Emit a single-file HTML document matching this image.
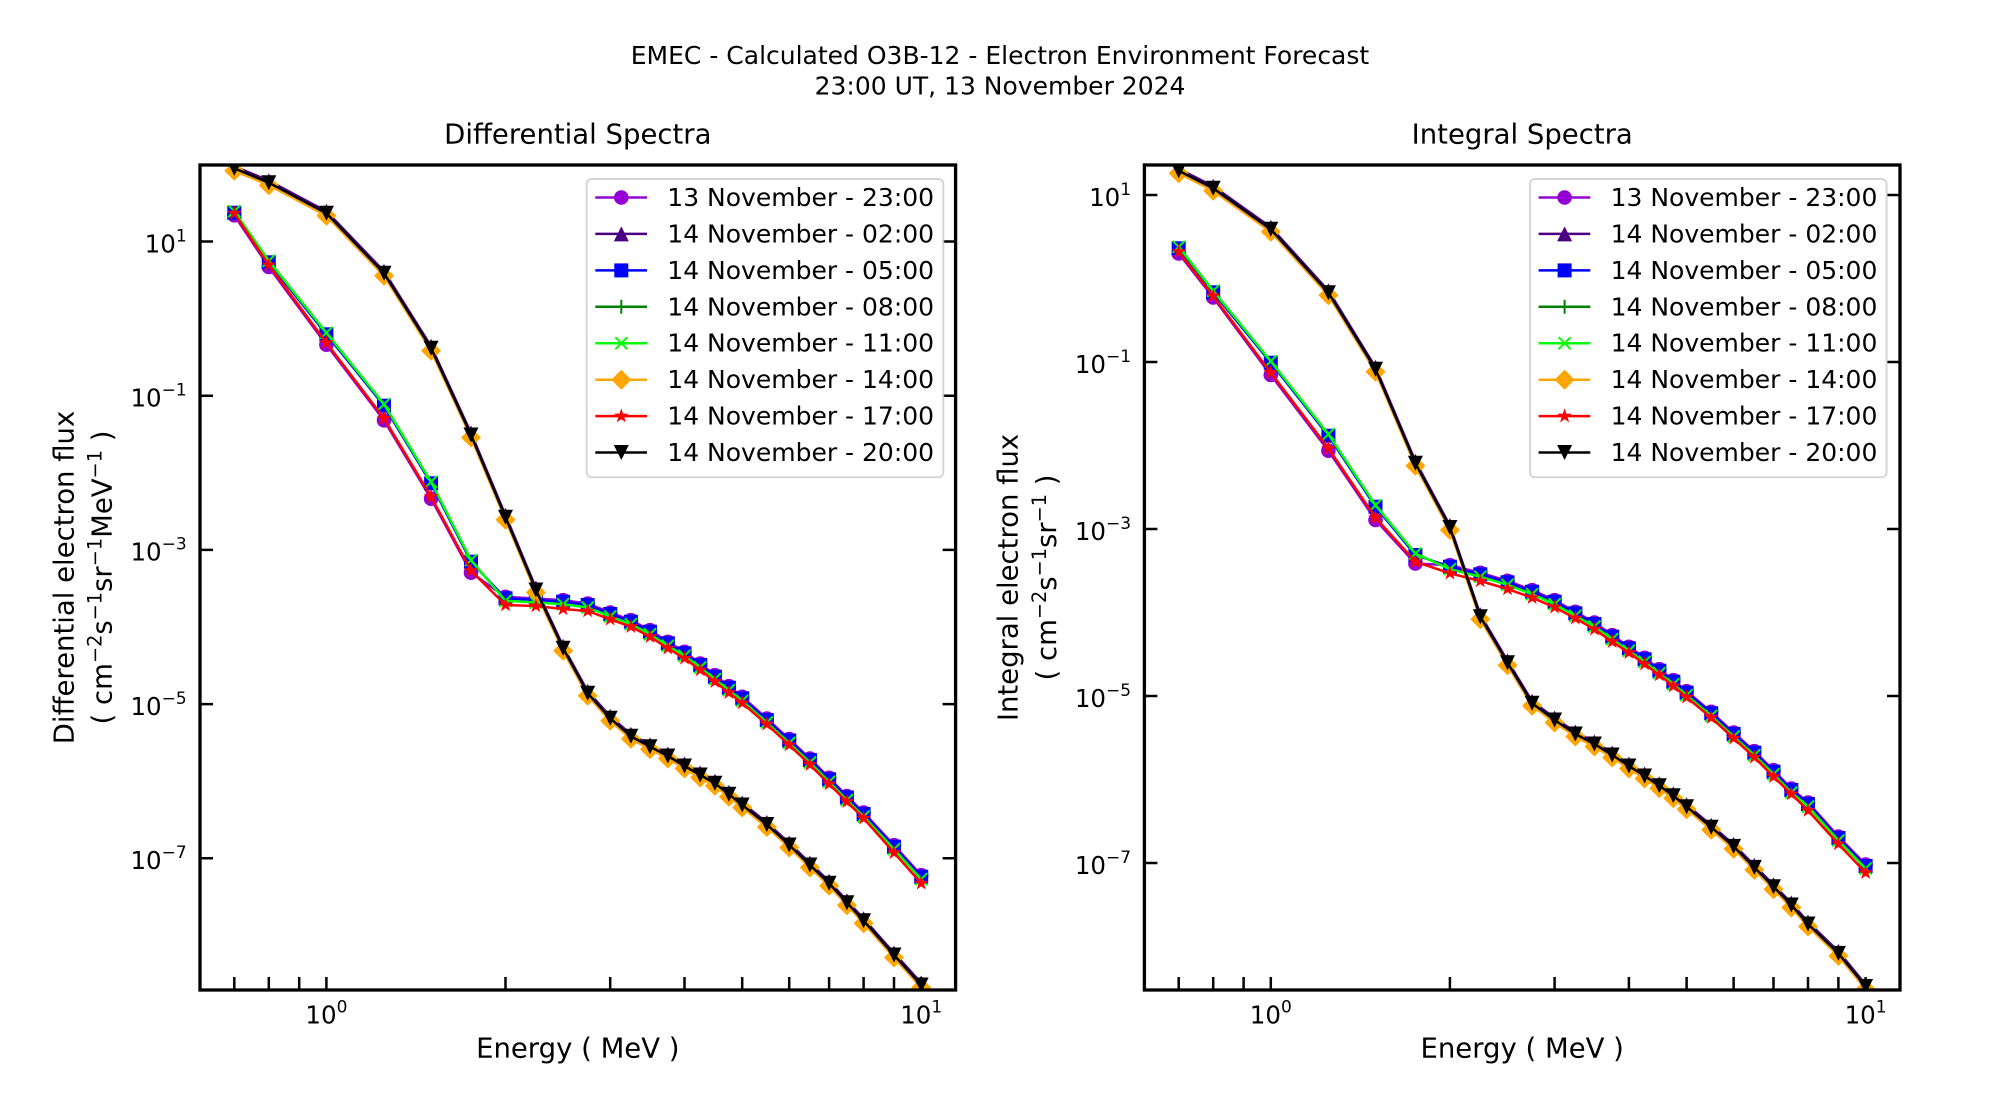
<!DOCTYPE html>
<html>
<head>
<meta charset="utf-8">
<style>
html,body{margin:0;padding:0;background:#fff;}
svg{display:block;}
text{font-family:"DejaVu Sans","Liberation Sans",sans-serif;fill:#000;white-space:pre;}
.d{fill:none;stroke-width:2.5;stroke-linejoin:round;stroke-linecap:butt;}
</style>
</head>
<body>
<svg width="2000" height="1100" viewBox="0 0 2000 1100" xmlns="http://www.w3.org/2000/svg">
<defs>
<marker id="mP" markerUnits="userSpaceOnUse" viewBox="-12 -12 24 24" markerWidth="24" markerHeight="24" refX="0" refY="0" overflow="visible"><circle r="7.3" fill="#9400D3"/></marker>
<marker id="mI" markerUnits="userSpaceOnUse" viewBox="-12 -12 24 24" markerWidth="24" markerHeight="24" refX="0" refY="0" overflow="visible"><path d="M0,-7.5L7.5,7.5L-7.5,7.5Z" fill="#4B0082"/></marker>
<marker id="mB" markerUnits="userSpaceOnUse" viewBox="-12 -12 24 24" markerWidth="24" markerHeight="24" refX="0" refY="0" overflow="visible"><rect x="-7" y="-7" width="14" height="14" fill="#0000FF"/></marker>
<marker id="mG" markerUnits="userSpaceOnUse" viewBox="-12 -12 24 24" markerWidth="24" markerHeight="24" refX="0" refY="0" overflow="visible"><path d="M-7,0H7M0,-7V7" stroke="#008000" stroke-width="2" fill="none"/></marker>
<marker id="mL" markerUnits="userSpaceOnUse" viewBox="-12 -12 24 24" markerWidth="24" markerHeight="24" refX="0" refY="0" overflow="visible"><path d="M-6,-6L6,6M-6,6L6,-6" stroke="#00FF00" stroke-width="2" fill="none"/></marker>
<marker id="mO" markerUnits="userSpaceOnUse" viewBox="-12 -12 24 24" markerWidth="24" markerHeight="24" refX="0" refY="0" overflow="visible"><path d="M0,-10L10,0L0,10L-10,0Z" fill="#FFA500"/></marker>
<marker id="mR" markerUnits="userSpaceOnUse" viewBox="-12 -12 24 24" markerWidth="24" markerHeight="24" refX="0" refY="0" overflow="visible"><path d="M0,-7.8L1.76,-2.43L7.42,-2.41L2.85,0.93L4.58,6.31L0,3L-4.58,6.31L-2.85,0.93L-7.42,-2.41L-1.76,-2.43Z" fill="#FF0000"/></marker>
<marker id="mK" markerUnits="userSpaceOnUse" viewBox="-12 -12 24 24" markerWidth="24" markerHeight="24" refX="0" refY="0" overflow="visible"><path d="M0,7.5L7.5,-7.5L-7.5,-7.5Z" fill="#000000"/></marker>
<clipPath id="ax" clipPathUnits="userSpaceOnUse"><rect x="200" y="165" width="755.6" height="825"/></clipPath>
</defs>

<!-- Suptitle -->
<text x="1000" y="64" font-size="25" text-anchor="middle">EMEC - Calculated O3B-12 - Electron Environment Forecast</text>
<text x="1000" y="94.5" font-size="25" text-anchor="middle">23:00 UT, 13 November 2024</text>

<!-- ================= LEFT PLOT ================= -->
<text x="577.8" y="143.5" font-size="27.5" text-anchor="middle">Differential Spectra</text>

<g clip-path="url(#ax)">
<polyline class="d" stroke="#9400D3" marker-start="url(#mP)" marker-mid="url(#mP)" marker-end="url(#mP)" points="234.3,215.3 268.8,267 326.4,344.7 384,420.3 431.1,498.7 471,572.7 505.5,596.8 535.9,598.5 563.1,600.2 587.7,603.5 610.2,612.5 630.9,620.2 650,630.2 667.8,641.8 684.5,651.8 700.2,663.5 714.9,675.2 728.9,686.2 742.2,696.8 766.8,718.5 789.2,739 809.9,758.5 829.1,777.8 846.9,796 863.6,812.5 894,845.2 921.2,875.2"/>
<polyline class="d" stroke="#4B0082" marker-start="url(#mI)" marker-mid="url(#mI)" marker-end="url(#mI)" points="234.3,166.3 268.8,180.7 326.4,211.3 384,271.3 431.1,346.3 471,433 505.5,515.3 535.9,588 563.1,646.3 587.7,691.3 610.2,716.3 630.9,734.3 650,744.7 667.8,754 684.5,764 700.2,773 714.9,781.3 728.9,792.2 742.2,803 766.8,822.5 789.2,843 809.9,863 829.1,881.3 846.9,900.7 863.6,918.7 894,953 921.2,983"/>
<polyline class="d" stroke="#0000FF" marker-start="url(#mB)" marker-mid="url(#mB)" marker-end="url(#mB)" points="234.3,212.7 268.8,262.3 326.4,334.3 384,405.7 431.1,483.3 471,561.7 505.5,598.3 535.9,600 563.1,601.7 587.7,605 610.2,614 630.9,621.7 650,631.7 667.8,643.3 684.5,653.3 700.2,665 714.9,676.7 728.9,687.7 742.2,698.3 766.8,720 789.2,740.5 809.9,760 829.1,779.3 846.9,797.5 863.6,814 894,846.7 921.2,876.7"/>
<polyline class="d" stroke="#008000" marker-start="url(#mG)" marker-mid="url(#mG)" marker-end="url(#mG)" points="234.3,169.8 268.8,184.2 326.4,214.8 384,274.8 431.1,349.8 471,436.5 505.5,518.8 535.9,591.5 563.1,649.8 587.7,694.8 610.2,719.8 630.9,737.8 650,748.2 667.8,757.5 684.5,767.5 700.2,776.5 714.9,784.8 728.9,795.7 742.2,806.5 766.8,826 789.2,846.5 809.9,866.5 829.1,884.8 846.9,904.2 863.6,922.2 894,956.5 921.2,986.5"/>
<polyline class="d" stroke="#00FF00" marker-start="url(#mL)" marker-mid="url(#mL)" marker-end="url(#mL)" points="234.3,211.2 268.8,260.8 326.4,332.8 384,404.2 431.1,481.8 471,560.2 505.5,600.8 535.9,602.5 563.1,604.2 587.7,607.5 610.2,616.5 630.9,624.2 650,634.2 667.8,645.8 684.5,655.8 700.2,667.5 714.9,679.2 728.9,690.2 742.2,700.8 766.8,722.5 789.2,743 809.9,762.5 829.1,781.8 846.9,800 863.6,816.5 894,849.2 921.2,879.2"/>
<polyline class="d" stroke="#FFA500" marker-start="url(#mO)" marker-mid="url(#mO)" marker-end="url(#mO)" points="234.3,170.8 268.8,185.2 326.4,215.8 384,275.8 431.1,350.8 471,437.5 505.5,519.8 535.9,592.5 563.1,650.8 587.7,695.8 610.2,720.8 630.9,738.8 650,749.2 667.8,758.5 684.5,768.5 700.2,777.5 714.9,785.8 728.9,796.7 742.2,807.5 766.8,827 789.2,847.5 809.9,867.5 829.1,885.8 846.9,905.2 863.6,923.2 894,957.5 921.2,987.5"/>
<polyline class="d" stroke="#FF0000" marker-start="url(#mR)" marker-mid="url(#mR)" marker-end="url(#mR)" points="234.3,213.3 268.8,265 326.4,342.7 384,418.3 431.1,496.7 471,570.7 505.5,605 535.9,606 563.1,609 587.7,611 610.2,619.3 630.9,626.7 650,636.7 667.8,648.3 684.5,658.3 700.2,670 714.9,681.7 728.9,692.7 742.2,703 766.8,724.3 789.2,745 809.9,764.7 829.1,784 846.9,801.7 863.6,818.3 894,852.7 921.2,883.3"/>
<polyline class="d" stroke="#000000" marker-start="url(#mK)" marker-mid="url(#mK)" marker-end="url(#mK)" points="234.3,168.3 268.8,182.7 326.4,213.3 384,273.3 431.1,348.3 471,435 505.5,517.3 535.9,590 563.1,648.3 587.7,693.3 610.2,718.3 630.9,736.3 650,746.7 667.8,756 684.5,766 700.2,775 714.9,783.3 728.9,794.2 742.2,805 766.8,824.5 789.2,845 809.9,865 829.1,883.3 846.9,902.7 863.6,920.7 894,955 921.2,985"/>
</g>

<!-- left axes frame & ticks -->
<rect x="200" y="165" width="755.6" height="825" fill="none" stroke="#000" stroke-width="3.3"/>
<path d="M200,241.5h13M200,395.7h13M200,549.9h13M200,704.1h13M200,858.3h13M955.6,241.5h-13M955.6,395.7h-13M955.6,549.9h-13M955.6,704.1h-13M955.6,858.3h-13M234.3,990v-13M268.8,990v-13M299.2,990v-13M326.4,990v-13M505.5,990v-13M610.2,990v-13M684.5,990v-13M742.2,990v-13M789.2,990v-13M829.1,990v-13M863.6,990v-13M894,990v-13M921.2,990v-13" stroke="#000" stroke-width="2.5" fill="none"/>

<text x="186.7" y="252.3" font-size="24.5" text-anchor="end">10<tspan font-size="17" dy="-11">1</tspan></text>
<text x="186.7" y="406.5" font-size="24.5" text-anchor="end">10<tspan font-size="17" dy="-11">−1</tspan></text>
<text x="186.7" y="560.7" font-size="24.5" text-anchor="end">10<tspan font-size="17" dy="-11">−3</tspan></text>
<text x="186.7" y="714.9" font-size="24.5" text-anchor="end">10<tspan font-size="17" dy="-11">−5</tspan></text>
<text x="186.7" y="869.1" font-size="24.5" text-anchor="end">10<tspan font-size="17" dy="-11">−7</tspan></text>

<text x="326.4" y="1023.5" font-size="24.5" text-anchor="middle">10<tspan font-size="17" dy="-11">0</tspan></text>
<text x="921.2" y="1023.5" font-size="24.5" text-anchor="middle">10<tspan font-size="17" dy="-11">1</tspan></text>

<text x="577.8" y="1057.5" font-size="27.5" text-anchor="middle">Energy ( MeV )</text>

<text transform="translate(73.3,577.5) rotate(-90)" font-size="27.5" text-anchor="middle">Differential electron flux</text>
<text transform="translate(111.7,577.5) rotate(-90)" font-size="27.5" text-anchor="middle">( cm<tspan font-size="19.25" dy="-10">−2</tspan><tspan dy="10">s</tspan><tspan font-size="19.25" dy="-10">−1</tspan><tspan dy="10">sr</tspan><tspan font-size="19.25" dy="-10">−1</tspan><tspan dy="10">MeV</tspan><tspan font-size="19.25" dy="-10">−1</tspan><tspan dy="10"> )</tspan></text>

<!-- left legend -->
<rect x="586.7" y="179" width="356.6" height="298.3" rx="5" ry="5" fill="#fff" fill-opacity="0.8" stroke="#cccccc" stroke-opacity="0.8" stroke-width="2"/>
<polyline class="d" stroke="#9400D3" marker-mid="url(#mP)" points="595.3,197.5 621.3,197.5 647,197.5"/>
<polyline class="d" stroke="#4B0082" marker-mid="url(#mI)" points="595.3,233.9 621.3,233.9 647,233.9"/>
<polyline class="d" stroke="#0000FF" marker-mid="url(#mB)" points="595.3,270.4 621.3,270.4 647,270.4"/>
<polyline class="d" stroke="#008000" marker-mid="url(#mG)" points="595.3,306.8 621.3,306.8 647,306.8"/>
<polyline class="d" stroke="#00FF00" marker-mid="url(#mL)" points="595.3,343.2 621.3,343.2 647,343.2"/>
<polyline class="d" stroke="#FFA500" marker-mid="url(#mO)" points="595.3,379.7 621.3,379.7 647,379.7"/>
<polyline class="d" stroke="#FF0000" marker-mid="url(#mR)" points="595.3,416.1 621.3,416.1 647,416.1"/>
<polyline class="d" stroke="#000000" marker-mid="url(#mK)" points="595.3,452.5 621.3,452.5 647,452.5"/>
<text x="667.3" y="206" font-size="25">13 November - 23:00</text>
<text x="667.3" y="242.4" font-size="25">14 November - 02:00</text>
<text x="667.3" y="278.9" font-size="25">14 November - 05:00</text>
<text x="667.3" y="315.3" font-size="25">14 November - 08:00</text>
<text x="667.3" y="351.7" font-size="25">14 November - 11:00</text>
<text x="667.3" y="388.2" font-size="25">14 November - 14:00</text>
<text x="667.3" y="424.6" font-size="25">14 November - 17:00</text>
<text x="667.3" y="461" font-size="25">14 November - 20:00</text>

<!-- ================= RIGHT PLOT ================= -->
<text x="1522.2" y="143.5" font-size="27.5" text-anchor="middle">Integral Spectra</text>

<g transform="translate(944.4,0)">
<g clip-path="url(#ax)">
<polyline class="d" stroke="#9400D3" marker-start="url(#mP)" marker-mid="url(#mP)" marker-end="url(#mP)" points="234.3,253.5 268.8,297.5 326.4,375 384,450.7 431.1,520 471,563.5 505.5,565.2 535.9,572.8 563.1,580.8 587.7,590.2 610.2,600.2 630.9,611.8 650,622.5 667.8,635.2 684.5,646.8 700.2,657.8 714.9,669.2 728.9,680.2 742.2,691.2 766.8,711.8 789.2,732.5 809.9,751.2 829.1,770.2 846.9,788.5 863.6,802.5 894,836.5 921.2,864.5"/>
<polyline class="d" stroke="#4B0082" marker-start="url(#mI)" marker-mid="url(#mI)" marker-end="url(#mI)" points="234.3,168.7 268.8,186.3 326.4,227.3 384,290.7 431.1,367.3 471,461.3 505.5,525.5 535.9,614.7 563.1,660.7 587.7,701.3 610.2,718 630.9,732 650,742 667.8,753 684.5,764 700.2,774 714.9,783.7 728.9,793.7 742.2,804.7 766.8,825.2 789.2,844.4 809.9,865.4 829.1,884.7 846.9,903 863.6,922 894,951.4 921.2,984.5"/>
<polyline class="d" stroke="#0000FF" marker-start="url(#mB)" marker-mid="url(#mB)" marker-end="url(#mB)" points="234.3,248.3 268.8,292.3 326.4,362.7 384,435.7 431.1,506.7 471,555 505.5,566.7 535.9,574.3 563.1,582.3 587.7,591.7 610.2,601.7 630.9,613.3 650,624 667.8,636.7 684.5,648.3 700.2,659.3 714.9,670.7 728.9,681.7 742.2,692.7 766.8,713.3 789.2,734 809.9,752.7 829.1,771.7 846.9,790 863.6,804 894,838 921.2,866"/>
<polyline class="d" stroke="#008000" marker-start="url(#mG)" marker-mid="url(#mG)" marker-end="url(#mG)" points="234.3,172.2 268.8,189.8 326.4,230.8 384,294.2 431.1,370.8 471,464.8 505.5,529 535.9,618.2 563.1,664.2 587.7,704.8 610.2,721.5 630.9,735.5 650,745.5 667.8,756.5 684.5,767.5 700.2,777.5 714.9,787.2 728.9,797.2 742.2,808.2 766.8,828.7 789.2,847.9 809.9,868.9 829.1,888.2 846.9,906.5 863.6,925.5 894,954.9 921.2,988"/>
<polyline class="d" stroke="#00FF00" marker-start="url(#mL)" marker-mid="url(#mL)" marker-end="url(#mL)" points="234.3,246.8 268.8,290.8 326.4,361.2 384,434.2 431.1,505.2 471,553.5 505.5,569.2 535.9,576.8 563.1,584.8 587.7,594.2 610.2,604.2 630.9,615.8 650,626.5 667.8,639.2 684.5,650.8 700.2,661.8 714.9,673.2 728.9,684.2 742.2,695.2 766.8,715.8 789.2,736.5 809.9,755.2 829.1,774.2 846.9,792.5 863.6,806.5 894,840.5 921.2,868.5"/>
<polyline class="d" stroke="#FFA500" marker-start="url(#mO)" marker-mid="url(#mO)" marker-end="url(#mO)" points="234.3,173.2 268.8,190.8 326.4,231.8 384,295.2 431.1,371.8 471,465.8 505.5,530 535.9,619.2 563.1,665.2 587.7,705.8 610.2,722.5 630.9,736.5 650,746.5 667.8,757.5 684.5,768.5 700.2,778.5 714.9,788.2 728.9,798.2 742.2,809.2 766.8,829.7 789.2,848.9 809.9,869.9 829.1,889.2 846.9,907.5 863.6,926.5 894,955.9 921.2,989"/>
<polyline class="d" stroke="#FF0000" marker-start="url(#mR)" marker-mid="url(#mR)" marker-end="url(#mR)" points="234.3,251.7 268.8,296 326.4,372.7 384,448.3 431.1,517.7 471,561.7 505.5,573.3 535.9,581 563.1,589 587.7,597.7 610.2,607.3 630.9,618.3 650,629.3 667.8,641.7 684.5,652.7 700.2,664 714.9,675 728.9,686 742.2,697.3 766.8,717.7 789.2,738.3 809.9,757.3 829.1,776.7 846.9,794 863.6,810.5 894,844 921.2,872.7"/>
<polyline class="d" stroke="#000000" marker-start="url(#mK)" marker-mid="url(#mK)" marker-end="url(#mK)" points="234.3,170.7 268.8,188.3 326.4,229.3 384,292.7 431.1,369.3 471,463.3 505.5,527.5 535.9,616.7 563.1,662.7 587.7,703.3 610.2,720 630.9,734 650,744 667.8,755 684.5,766 700.2,776 714.9,785.7 728.9,795.7 742.2,806.7 766.8,827.2 789.2,846.4 809.9,867.4 829.1,886.7 846.9,905 863.6,924 894,953.4 921.2,986.5"/>
</g>
</g>

<!-- right axes frame & ticks -->
<rect x="1144.4" y="165" width="755.6" height="825" fill="none" stroke="#000" stroke-width="3.3"/>
<path d="M1144.4,195h13M1144.4,362h13M1144.4,529h13M1144.4,696h13M1144.4,863h13M1900,195h-13M1900,362h-13M1900,529h-13M1900,696h-13M1900,863h-13M1178.7,990v-13M1213.2,990v-13M1243.6,990v-13M1270.8,990v-13M1449.9,990v-13M1554.6,990v-13M1628.9,990v-13M1686.6,990v-13M1733.6,990v-13M1773.5,990v-13M1808,990v-13M1838.4,990v-13M1865.6,990v-13" stroke="#000" stroke-width="2.5" fill="none"/>

<text x="1131.1" y="205.8" font-size="24.5" text-anchor="end">10<tspan font-size="17" dy="-11">1</tspan></text>
<text x="1131.1" y="372.8" font-size="24.5" text-anchor="end">10<tspan font-size="17" dy="-11">−1</tspan></text>
<text x="1131.1" y="539.8" font-size="24.5" text-anchor="end">10<tspan font-size="17" dy="-11">−3</tspan></text>
<text x="1131.1" y="706.8" font-size="24.5" text-anchor="end">10<tspan font-size="17" dy="-11">−5</tspan></text>
<text x="1131.1" y="873.8" font-size="24.5" text-anchor="end">10<tspan font-size="17" dy="-11">−7</tspan></text>

<text x="1270.8" y="1023.5" font-size="24.5" text-anchor="middle">10<tspan font-size="17" dy="-11">0</tspan></text>
<text x="1865.6" y="1023.5" font-size="24.5" text-anchor="middle">10<tspan font-size="17" dy="-11">1</tspan></text>

<text x="1522.2" y="1057.5" font-size="27.5" text-anchor="middle">Energy ( MeV )</text>

<text transform="translate(1017.7,577.5) rotate(-90)" font-size="27.5" text-anchor="middle">Integral electron flux</text>
<text transform="translate(1056.1,577.5) rotate(-90)" font-size="27.5" text-anchor="middle">( cm<tspan font-size="19.25" dy="-10">−2</tspan><tspan dy="10">s</tspan><tspan font-size="19.25" dy="-10">−1</tspan><tspan dy="10">sr</tspan><tspan font-size="19.25" dy="-10">−1</tspan><tspan dy="10"> )</tspan></text>

<!-- right legend -->
<rect x="1530" y="179" width="356.6" height="298.3" rx="5" ry="5" fill="#fff" fill-opacity="0.8" stroke="#cccccc" stroke-opacity="0.8" stroke-width="2"/>
<polyline class="d" stroke="#9400D3" marker-mid="url(#mP)" points="1538.6,197.5 1564.6,197.5 1590.3,197.5"/>
<polyline class="d" stroke="#4B0082" marker-mid="url(#mI)" points="1538.6,233.9 1564.6,233.9 1590.3,233.9"/>
<polyline class="d" stroke="#0000FF" marker-mid="url(#mB)" points="1538.6,270.4 1564.6,270.4 1590.3,270.4"/>
<polyline class="d" stroke="#008000" marker-mid="url(#mG)" points="1538.6,306.8 1564.6,306.8 1590.3,306.8"/>
<polyline class="d" stroke="#00FF00" marker-mid="url(#mL)" points="1538.6,343.2 1564.6,343.2 1590.3,343.2"/>
<polyline class="d" stroke="#FFA500" marker-mid="url(#mO)" points="1538.6,379.7 1564.6,379.7 1590.3,379.7"/>
<polyline class="d" stroke="#FF0000" marker-mid="url(#mR)" points="1538.6,416.1 1564.6,416.1 1590.3,416.1"/>
<polyline class="d" stroke="#000000" marker-mid="url(#mK)" points="1538.6,452.5 1564.6,452.5 1590.3,452.5"/>
<text x="1610.6" y="206" font-size="25">13 November - 23:00</text>
<text x="1610.6" y="242.4" font-size="25">14 November - 02:00</text>
<text x="1610.6" y="278.9" font-size="25">14 November - 05:00</text>
<text x="1610.6" y="315.3" font-size="25">14 November - 08:00</text>
<text x="1610.6" y="351.7" font-size="25">14 November - 11:00</text>
<text x="1610.6" y="388.2" font-size="25">14 November - 14:00</text>
<text x="1610.6" y="424.6" font-size="25">14 November - 17:00</text>
<text x="1610.6" y="461" font-size="25">14 November - 20:00</text>
</svg>
</body>
</html>
